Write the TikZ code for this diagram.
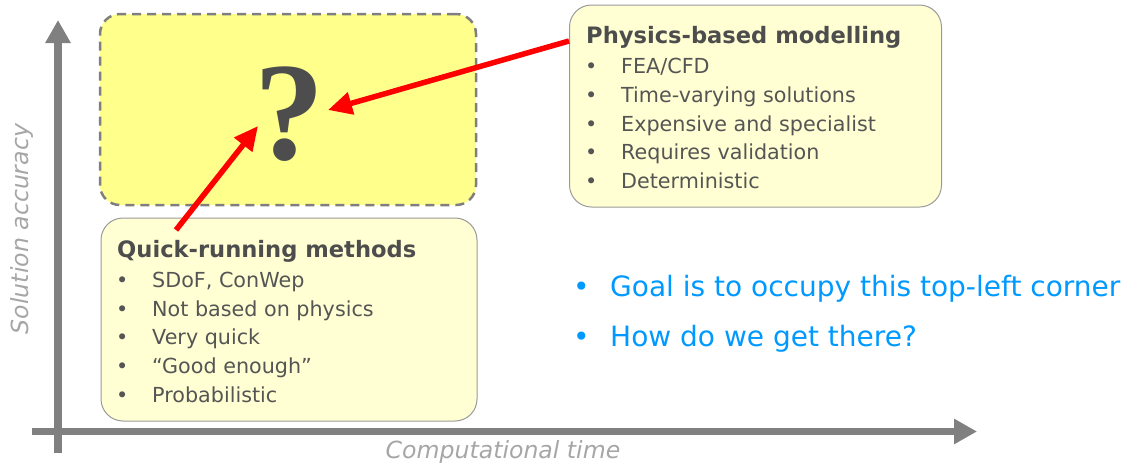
\documentclass[tikz,border=0pt]{standalone}
\usepackage{fontspec}
\setmainfont{DejaVu Sans}
\newfontfamily\qfont{Liberation Serif}
\usetikzlibrary{arrows.meta}
\definecolor{axisgray}{HTML}{808080}
\definecolor{labelgray}{HTML}{A6A6A6}
\definecolor{textgray}{HTML}{555555}
\definecolor{titlegray}{HTML}{4D4D4D}
\definecolor{paleyellow}{HTML}{FFFFD3}
\definecolor{brightyellow}{HTML}{FFFF8C}
\definecolor{boxborder}{HTML}{9A9A9A}
\definecolor{dashgray}{HTML}{7F7F7F}
\definecolor{goalblue}{HTML}{0099FF}
\definecolor{arrowred}{HTML}{FF0000}
\begin{document}
\begin{tikzpicture}[x=1pt,y=-1pt,
  goalbox/.style={draw=dashgray, line width=2.5pt, dash pattern=on 9pt off 6pt, fill=brightyellow, rounded corners=20pt, inner sep=0pt, outer sep=0pt},
  infobox/.style={draw=boxborder, line width=1pt, fill=paleyellow, rounded corners=22pt, inner sep=0pt, outer sep=0pt},
  axis/.style={draw=axisgray, line width=7.5pt, -{Triangle[length=23pt,width=24pt]}},
  redarrow/.style={draw=arrowred, line width=5.5pt, -{Triangle[length=24pt,width=22pt]}},
  boxtitle/.style={anchor=base west, inner sep=0pt, text=titlegray, font=\fontsize{22.6}{26}\selectfont\bfseries},
  item/.style={anchor=base west, inner sep=0pt, text=textgray, font=\fontsize{20.7}{24}\selectfont},
  goalitem/.style={anchor=base west, inner sep=0pt, text=goalblue, font=\fontsize{28}{32}\selectfont},
  axislabel/.style={anchor=base, inner sep=0pt, text=labelgray, font=\fontsize{23.6}{27}\selectfont\itshape},
  qmark/.style={inner sep=0pt, text=titlegray, font=\fontsize{140}{150}\selectfont\qfont\bfseries}
]
\useasboundingbox (0,0) rectangle (1137,464);

% target region
\node[goalbox, minimum width=376pt, minimum height=191pt] (goal) at (288,109.5) {};

% axes
\coordinate (yb) at (58,453);
\coordinate (yt) at (58,20);
\coordinate (xl) at (32,431.5);
\coordinate (xr) at (977,431.5);
\draw[axis] (yb) -- (yt);
\draw[axis] (xl) -- (xr);
\node[axislabel] (xlab) at (503,458) {Computational time};
\node[axislabel, rotate=90] (ylab) at (28.5,229) {Solution accuracy};

% information boxes
\node[infobox, minimum width=372pt, minimum height=202pt] (phys) at (755.5,106) {};
\node[infobox, minimum width=376pt, minimum height=203pt] (quick) at (289,319.5) {};

% physics text
\node[boxtitle] (pt) at (586,43) {Physics-based modelling};
\node[item] (p1) at (585,73) {\makebox[36pt][l]{•}FEA/CFD};
\node[item] (p2) at (585,102) {\makebox[36pt][l]{•}Time-varying solutions};
\node[item] (p3) at (585,131) {\makebox[36pt][l]{•}Expensive and specialist};
\node[item] (p4) at (585,159) {\makebox[36pt][l]{•}Requires validation};
\node[item] (p5) at (585,188) {\makebox[36pt][l]{•}Deterministic};

% quick text
\node[boxtitle] (qt) at (117,257) {Quick-running methods};
\node[item] (q1) at (116,287) {\makebox[36pt][l]{•}SDoF, ConWep};
\node[item] (q2) at (116,316) {\makebox[36pt][l]{•}Not based on physics};
\node[item] (q3) at (116,344) {\makebox[36pt][l]{•}Very quick};
\node[item] (q4) at (116,373) {\makebox[36pt][l]{•}“Good enough”};
\node[item] (q5) at (116,402) {\makebox[36pt][l]{•}Probabilistic};

% goal text
\node[goalitem] (g1) at (573,296) {\makebox[37pt][l]{•}Goal is to occupy this top-left corner};
\node[goalitem] (g2) at (573,346) {\makebox[37pt][l]{•}How do we get there?};

% question mark
\node[qmark] (q) at (289,114.5) {?};

% red arrows
\coordinate (a1s) at (569,41);
\coordinate (a1e) at (328,110);
\coordinate (a2s) at (176,230);
\coordinate (a2e) at (258,126);
\draw[redarrow] (a1s) -- (a1e);
\draw[redarrow] (a2s) -- (a2e);
\end{tikzpicture}
\end{document}
